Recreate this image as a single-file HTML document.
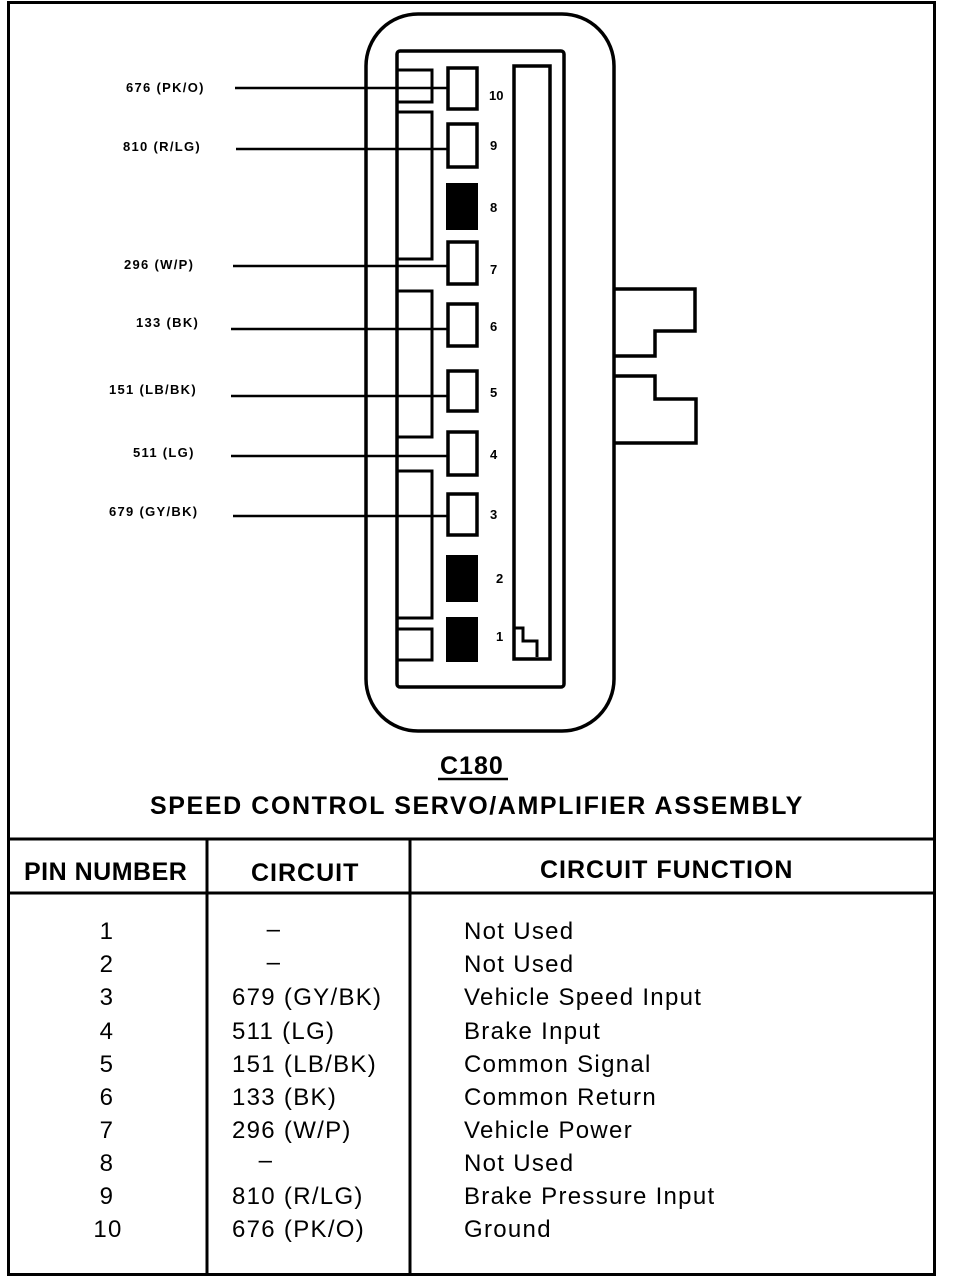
<!DOCTYPE html>
<html><head><meta charset="utf-8"><style>
html,body{margin:0;padding:0;background:#fff;width:960px;height:1278px;overflow:hidden}
svg{display:block}
text{font-family:"Liberation Sans",Arial,sans-serif;fill:#000}
.lbl{font-size:13px;font-weight:bold;letter-spacing:1.3px}
.num{font-size:13px;font-weight:bold}
.h{font-size:25px;font-weight:bold}
.t{font-size:24px;letter-spacing:1.3px}
</style></head><body>
<svg width="960" height="1278" viewBox="0 0 960 1278" xmlns="http://www.w3.org/2000/svg">
<g fill="none" stroke="#000">
<rect x="8.5" y="2.5" width="926" height="1272" stroke-width="3"/>
<line x1="8" y1="839" x2="936" y2="839" stroke-width="3"/>
<line x1="8" y1="893" x2="936" y2="893" stroke-width="3"/>
<line x1="207" y1="839" x2="207" y2="1275" stroke-width="3"/>
<line x1="410" y1="839" x2="410" y2="1275" stroke-width="3"/>
<rect x="366" y="14" width="248" height="717" rx="52" ry="52" stroke-width="3.5"/>
<rect x="397" y="51" width="167" height="636" rx="3" stroke-width="3.5"/>
<rect x="514" y="66" width="36" height="593" stroke-width="3.5"/>
<path d="M515 628 H523 V641 H537 V657" stroke-width="3"/>
<path d="M615 289 H695 V331 H655 V356 H615" stroke-width="3.5"/>
<path d="M615 376 H655 V399 H696 V443 H615" stroke-width="3.5"/>
<rect x="397" y="70" width="35" height="32" stroke-width="3"/>
<rect x="397" y="112" width="35" height="147" stroke-width="3"/>
<rect x="397" y="291" width="35" height="146" stroke-width="3"/>
<rect x="397" y="471" width="35" height="147" stroke-width="3"/>
<rect x="397" y="629" width="35" height="31" stroke-width="3"/>
<rect x="448" y="68" width="29" height="41" stroke-width="3.5"/>
<rect x="448" y="124" width="29" height="43" stroke-width="3.5"/>
<rect x="448" y="242" width="29" height="42" stroke-width="3.5"/>
<rect x="448" y="304" width="29" height="42" stroke-width="3.5"/>
<rect x="448" y="371" width="29" height="40" stroke-width="3.5"/>
<rect x="448" y="432" width="29" height="43" stroke-width="3.5"/>
<rect x="448" y="494" width="29" height="41" stroke-width="3.5"/>
<g stroke-width="2.5">
<line x1="235" y1="88" x2="448" y2="88"/>
<line x1="236" y1="149" x2="448" y2="149"/>
<line x1="233" y1="266" x2="448" y2="266"/>
<line x1="231" y1="329" x2="448" y2="329"/>
<line x1="231" y1="396" x2="448" y2="396"/>
<line x1="231" y1="456" x2="448" y2="456"/>
<line x1="233" y1="516" x2="448" y2="516"/>
</g>
</g>
<rect x="446" y="183" width="32" height="47" fill="#000"/>
<rect x="446" y="555" width="32" height="47" fill="#000"/>
<rect x="446" y="617" width="32" height="45" fill="#000"/>
<g class="lbl">
<text x="126" y="92">676 (PK/O)</text>
<text x="123" y="151">810 (R/LG)</text>
<text x="124" y="269">296 (W/P)</text>
<text x="136" y="327">133 (BK)</text>
<text x="109" y="394">151 (LB/BK)</text>
<text x="133" y="457">511 (LG)</text>
<text x="109" y="516">679 (GY/BK)</text>
</g>
<g class="num">
<text x="489" y="100">10</text>
<text x="490" y="150">9</text>
<text x="490" y="212">8</text>
<text x="490" y="274">7</text>
<text x="490" y="331">6</text>
<text x="490" y="397">5</text>
<text x="490" y="459">4</text>
<text x="490" y="519">3</text>
<text x="496" y="583">2</text>
<text x="496" y="641">1</text>
</g>
<text x="440" y="774" class="h" style="letter-spacing:1px">C180</text>
<line x1="438" y1="779" x2="508" y2="779" stroke="#000" stroke-width="2.5"/>
<text x="150" y="814" class="h" style="letter-spacing:1.6px">SPEED CONTROL SERVO/AMPLIFIER ASSEMBLY</text>
<text x="24" y="880" class="h" style="letter-spacing:0.5px">PIN NUMBER</text>
<text x="251" y="881" class="h" style="letter-spacing:1px">CIRCUIT</text>
<text x="540" y="878" class="h" style="letter-spacing:1px">CIRCUIT FUNCTION</text>
<g class="t">
<g text-anchor="middle">
<text x="107" y="939">1</text><text x="107" y="972">2</text><text x="107" y="1005">3</text>
<text x="107" y="1039">4</text><text x="107" y="1072">5</text><text x="107" y="1105">6</text>
<text x="107" y="1138">7</text><text x="107" y="1171">8</text><text x="107" y="1204">9</text>
<text x="108" y="1237">10</text>
<text x="274" y="937">–</text><text x="274" y="970">–</text><text x="266" y="1168">–</text>
</g>
<text x="232" y="1005">679 (GY/BK)</text>
<text x="232" y="1039">511 (LG)</text>
<text x="232" y="1072">151 (LB/BK)</text>
<text x="232" y="1105">133 (BK)</text>
<text x="232" y="1138">296 (W/P)</text>
<text x="232" y="1204">810 (R/LG)</text>
<text x="232" y="1237">676 (PK/O)</text>
<text x="464" y="939">Not Used</text>
<text x="464" y="972">Not Used</text>
<text x="464" y="1005">Vehicle Speed Input</text>
<text x="464" y="1039">Brake Input</text>
<text x="464" y="1072">Common Signal</text>
<text x="464" y="1105">Common Return</text>
<text x="464" y="1138">Vehicle Power</text>
<text x="464" y="1171">Not Used</text>
<text x="464" y="1204">Brake Pressure Input</text>
<text x="464" y="1237">Ground</text>
</g>
</svg>
</body></html>
